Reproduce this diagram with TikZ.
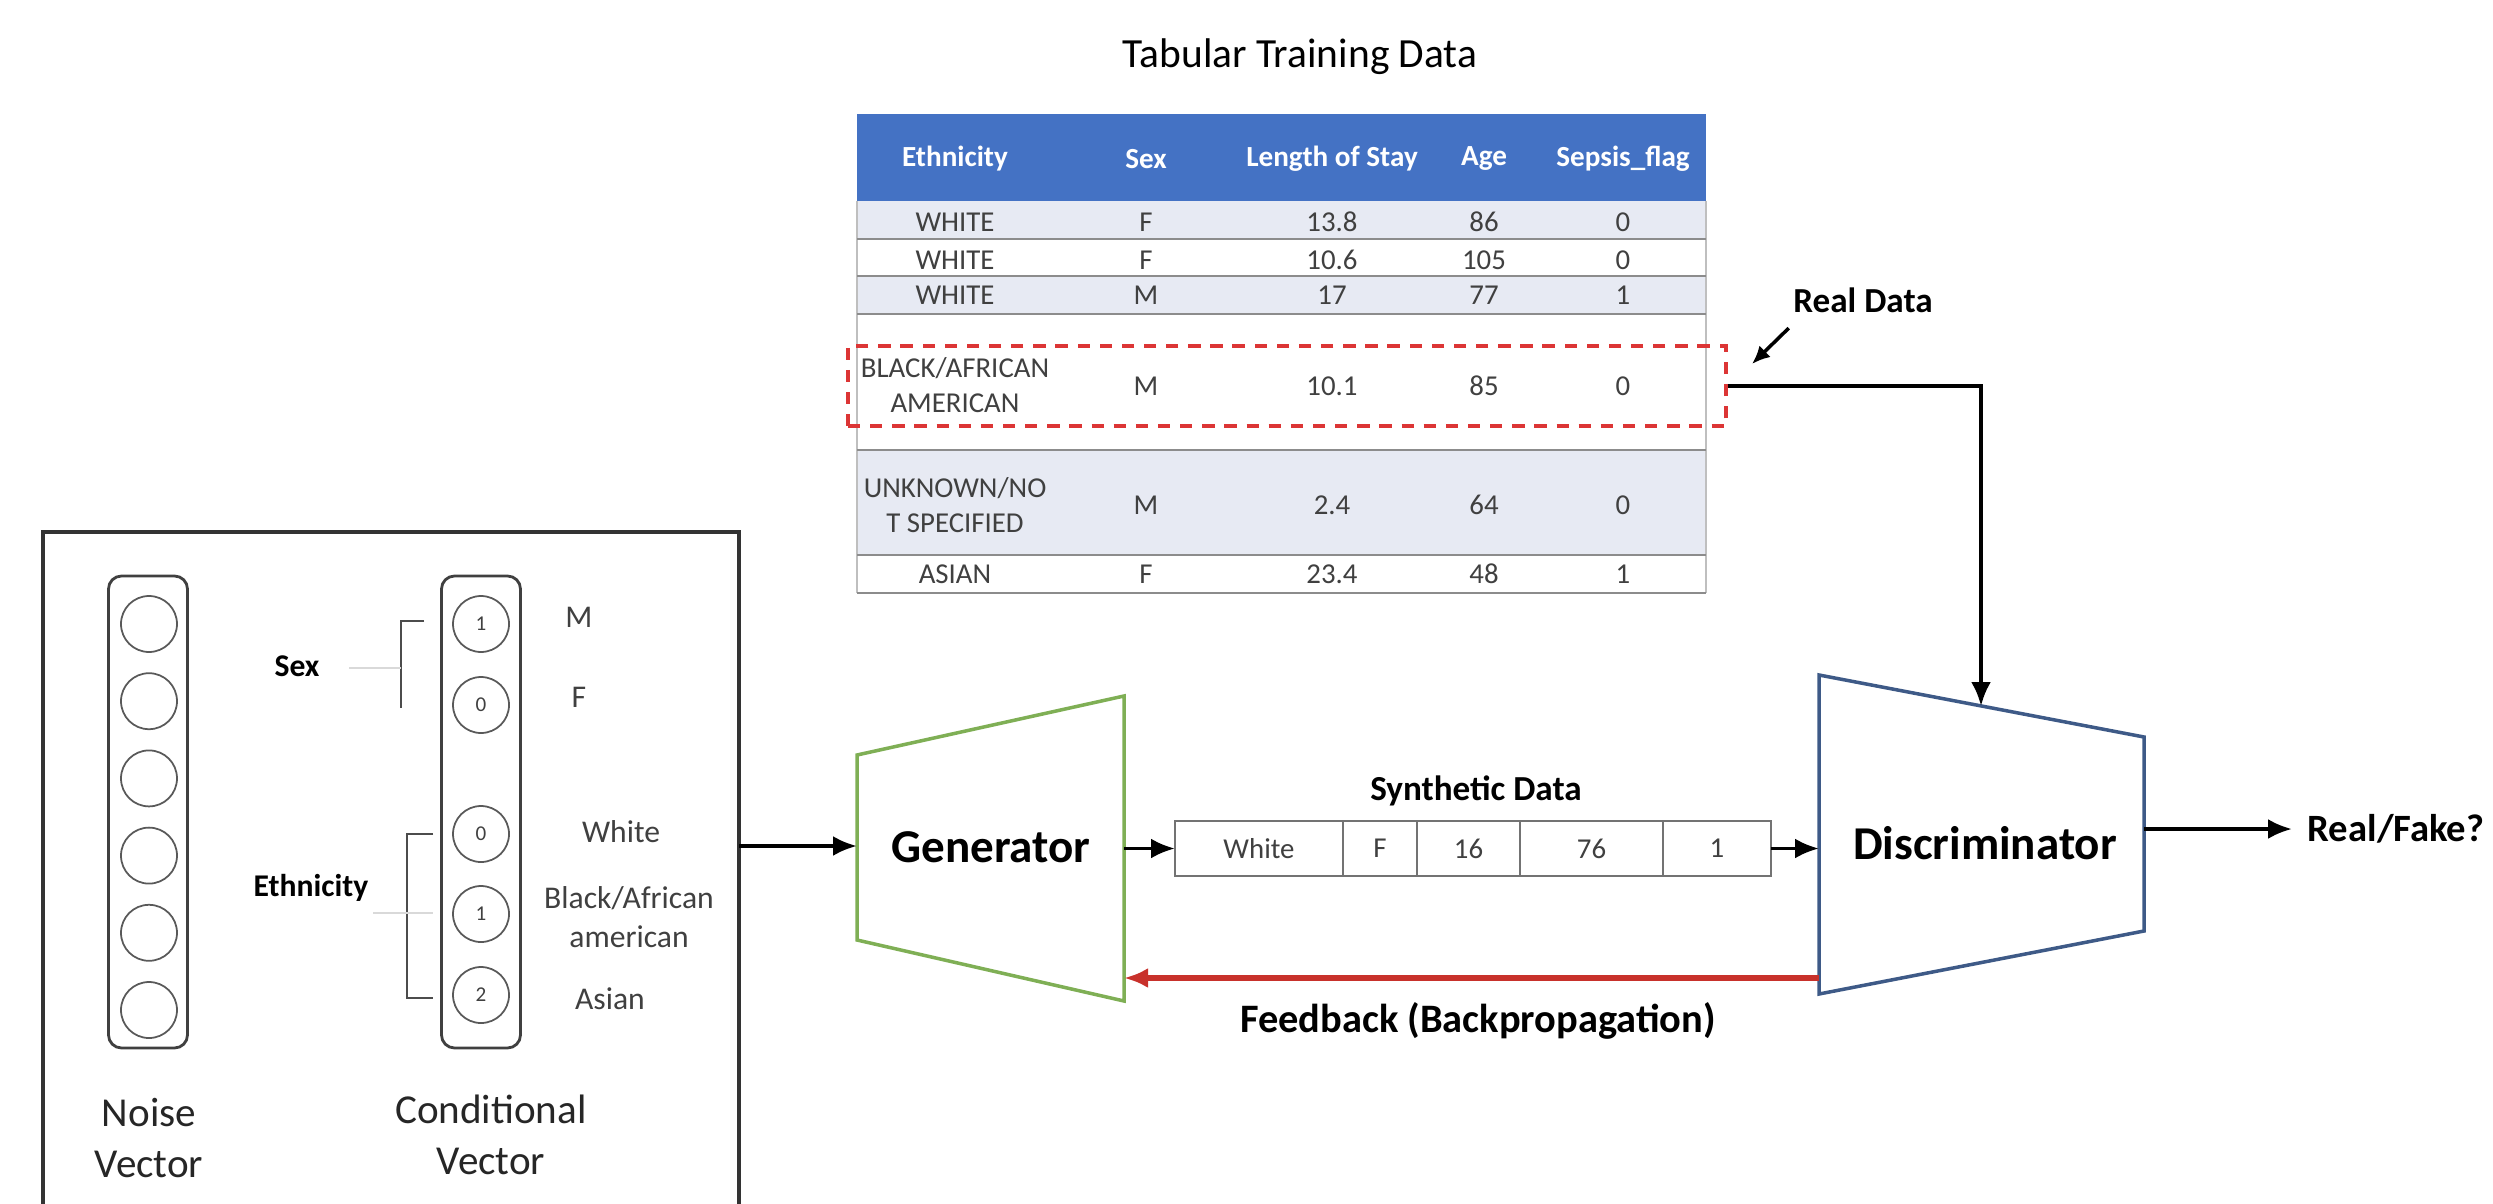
\documentclass[tikz,border=0pt]{standalone}
\usepackage{fontspec}
\setmainfont{Carlito}
\usepackage{xcolor}
\usepackage{tikz}
\usetikzlibrary{positioning,arrows.meta}

\definecolor{hdrblue}{HTML}{4472C4}
\definecolor{rowshade}{HTML}{E7EAF3}
\definecolor{gengreen}{HTML}{7FAF55}
\definecolor{discblue}{HTML}{3E5A87}
\definecolor{fbred}{HTML}{C8312B}
\definecolor{dashred}{HTML}{DC3535}
\definecolor{txtgray}{HTML}{404040}

\newcommand{\fsz}[2]{\fontsize{#1}{#2}\selectfont}

\begin{document}
\begin{tikzpicture}[x=0.1mm, y=-0.1mm, >={Latex[length=2.4mm,width=2mm]},
    tcell/.style={font=\fsz{8.2}{10}, text=txtgray, align=center},
    thead/.style={font=\bfseries\fsz{8.3}{10}, text=white},
    unit/.style={circle, draw=black!65, line width=0.5pt, minimum size=5.6mm, inner sep=0pt, font=\fsz{6}{7}, text=txtgray},
    vecbox/.style={draw=black!75, line width=0.8pt, rounded corners=1.3mm, minimum width=7.9mm, minimum height=47.2mm},
    lbl/.style={font=\fsz{9}{11}, text=txtgray, align=center},
    blbl/.style={font=\bfseries\fsz{9}{11}},
    flow/.style={->, line width=1.1pt},
    syncell/.style={draw=black!55, line width=0.6pt, minimum height=5.5mm, inner sep=0pt, outer sep=0pt, font=\fsz{8.2}{10}, text=txtgray}]
    \useasboundingbox (0,0) rectangle (2493,1203);

    % Training table
    \node (title) at (1300,57) {\fsz{11.8}{14}Tabular Training Data};
    \fill[hdrblue] (857,114) rectangle (1706,201);
    \fill[rowshade] (857,201) rectangle (1706,239);
    \fill[rowshade] (857,276) rectangle (1706,314);
    \fill[rowshade] (857,450) rectangle (1706,555);
    \draw[black!25, line width=0.5pt] (857,201) -- (857,593) (1706,201) -- (1706,593);
    \foreach \ly in {239,276,314,450,555,593}
        \draw[black!45, line width=0.6pt] (857,\ly) -- (1706,\ly);

    \node[thead] (h1) at (955,159) {Ethnicity};
    \node[thead] (h2) at (1146,159) {Sex};
    \node[thead] (h3) at (1332,159) {Length of Stay};
    \node[thead] (h4) at (1484,159) {Age};
    \node[thead] (h5) at (1623,159) {Sepsis\_flag};

    \foreach \y/\e/\s/\l/\a/\f [count=\n] in {222/WHITE/F/13.8/86/0, 260/WHITE/F/10.6/105/0,
            295/WHITE/M/17/77/1, 574/ASIAN/F/23.4/48/1} {
        \node[tcell] (r\n a) at (955,\y) {\e};
        \node[tcell] (r\n b) at (1146,\y) {\s};
        \node[tcell] (r\n c) at (1332,\y) {\l};
        \node[tcell] (r\n d) at (1484,\y) {\a};
        \node[tcell] (r\n e) at (1623,\y) {\f};
    }
    \node[tcell] (ba) at (955,385) {BLACK/AFRICAN\\AMERICAN};
    \node[tcell] (bb) at (1146,386) {M};
    \node[tcell] (bc) at (1332,386) {10.1};
    \node[tcell] (bd) at (1484,386) {85};
    \node[tcell] (be) at (1623,386) {0};
    \node[tcell] (ua) at (955,505) {UNKNOWN/NO\\T SPECIFIED};
    \node[tcell] (ub) at (1146,505) {M};
    \node[tcell] (uc) at (1332,505) {2.4};
    \node[tcell] (ud) at (1484,505) {64};
    \node[tcell] (ue) at (1623,505) {0};

    \node[draw=dashred, line width=0.9pt, dash pattern=on 3.5pt off 2.8pt,
        minimum width=87.8mm, minimum height=8mm] (realrow) at (1287,386) {};
    \node[font=\bfseries\fsz{10}{12}, inner sep=0pt] (realtxt) at (1863,300) {Real Data};
    \coordinate (realtip) at (1752,364);
    \draw[->, line width=1pt, >={Latex[length=1.8mm,width=1.6mm]}] (realtxt.south west) ++(-4,15) -- (realtip);

    % Input panel
    \draw[black!80, line width=1pt] (43,1215) -- (43,532) -- (739,532) -- (739,1215);
    \node[vecbox] (noise) at (148,812) {};
    \node[vecbox] (cond) at (481,812) {};
    \foreach \k in {0,...,5}
        \node[unit] (nz\k) at (149,624+77.2*\k) {};
    \node[unit] (cv1) at (481,624) {1};
    \node[unit] (cv2) at (481,705) {0};
    \node[unit] (cv3) at (481,834) {0};
    \node[unit] (cv4) at (481,914) {1};
    \node[unit] (cv5) at (481,995) {2};

    \draw[black!70, line width=0.5pt] (424,621) -- (401,621) -- (401,708);
    \draw[black!15, line width=0.5pt] (349,668) -- (401,668);
    \draw[black!70, line width=0.5pt] (433,834) -- (407,834) -- (407,998) -- (433,998);
    \draw[black!15, line width=0.5pt] (373,913) -- (433,913);
    \node[blbl] (sexlbl) at (297,666) {Sex};
    \node[blbl] (ethlbl) at (311,888) {Ethnicity};

    \node[lbl] (lm) at (579,617) {M};
    \node[lbl] (lf) at (579,697) {F};
    \node[lbl] (lw) at (621,832) {White};
    \node[lbl] (lb) at (629,917) {Black/African\\american};
    \node[lbl] (la) at (610,999) {Asian};

    \node[font=\fsz{11.7}{14.5}, align=center, text=black!85] (noiselbl) at (149,1138) {Noise\\Vector};
    \node[font=\fsz{11.7}{14.5}, align=center, text=black!85] (condlbl) at (491,1135) {Conditional\\Vector};

    % Generator
    \draw[gengreen, line width=1pt] (857,755) -- (1124,696) -- (1124,1001) -- (857,940) -- cycle;
    \node[font=\bfseries\fsz{13.4}{16}] (gen) at (991,847) {Generator};
    \coordinate (panel-out) at (739,846);
    \coordinate (gen-in) at (857,846);
    \coordinate (gen-out) at (1124,848.5);
    \coordinate (gen-back) at (1124,978);

    % Synthetic record
    \node[font=\bfseries\fsz{10}{12}] (synlbl) at (1476,791) {Synthetic Data};
    \node[syncell, minimum width=16.8mm, anchor=west] (syn1) at (1175,848.5) {White};
    \node[syncell, minimum width=7.4mm, right=0pt of syn1] (syn2) {F};
    \node[syncell, minimum width=10.3mm, right=0pt of syn2] (syn3) {16};
    \node[syncell, minimum width=14.3mm, right=0pt of syn3] (syn4) {76};
    \node[syncell, minimum width=10.8mm, right=0pt of syn4] (syn5) {1};

    % Discriminator
    \draw[discblue, line width=1pt] (1819,675) -- (2144,737) -- (2144,931) -- (1819,994) -- cycle;
    \node[font=\bfseries\fsz{13.4}{16}] (disc) at (1985,843) {Discriminator};
    \coordinate (disc-in) at (1819,848.5);
    \coordinate (disc-top) at (1981,706);
    \coordinate (disc-out) at (2144,829);
    \coordinate (disc-back) at (1819,978);
    \node[font=\bfseries\fsz{11}{13}, anchor=west, inner sep=0pt] (rf) at (2307,829) {Real/Fake?};

    % Connectors
    \draw[flow] (panel-out) -- (gen-in);
    \draw[flow] (gen-out) -- (syn1.west);
    \draw[flow] (syn5.east) -- (disc-in);
    \draw[flow] (realrow.east) -| (disc-top);
    \draw[flow] (disc-out) -- ([xshift=-1.5mm]rf.west);
    \draw[->, fbred, line width=1.5pt] (disc-back) -- (gen-back);
    \node[font=\bfseries\fsz{11.5}{14}] (fblbl) at (1478,1021) {Feedback (Backpropagation)};
\end{tikzpicture}
\end{document}
